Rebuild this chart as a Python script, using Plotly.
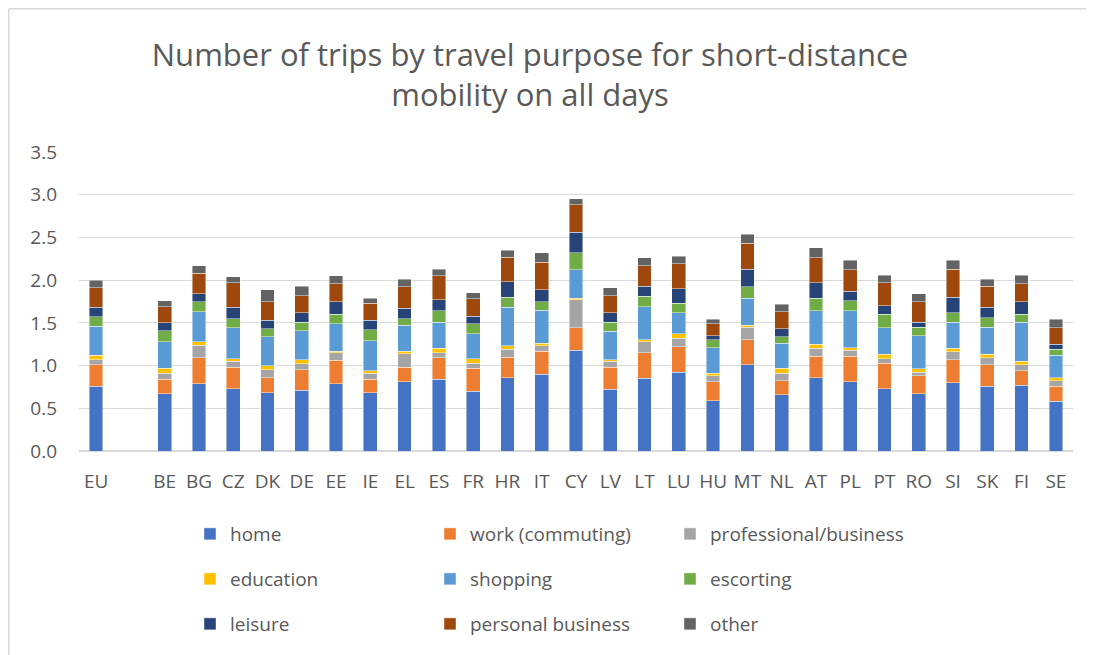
import plotly.graph_objects as go

countries = ["EU", " ", "BE", "BG", "CZ", "DK", "DE", "EE", "IE", "EL", "ES", "FR", "HR", "IT",
             "CY", "LV", "LT", "LU", "HU", "MT", "NL", "AT", "PL", "PT", "RO", "SI", "SK", "FI", "SE"]

# values, one list per purpose (None = empty slot after EU)
home = [0.76, None, 0.67, 0.79, 0.73, 0.68, 0.71, 0.79, 0.68, 0.81, 0.84, 0.70, 0.86, 0.90,
        1.18, 0.72, 0.85, 0.92, 0.59, 1.01, 0.66, 0.86, 0.81, 0.73, 0.67, 0.80, 0.76, 0.77, 0.58]
work = [0.25, None, 0.17, 0.30, 0.25, 0.18, 0.24, 0.27, 0.16, 0.17, 0.25, 0.27, 0.24, 0.27,
        0.26, 0.26, 0.30, 0.30, 0.22, 0.29, 0.16, 0.25, 0.30, 0.30, 0.21, 0.27, 0.25, 0.17, 0.18]
professional = [0.06, None, 0.07, 0.15, 0.07, 0.09, 0.07, 0.09, 0.07, 0.16, 0.06, 0.06, 0.09, 0.06,
                0.33, 0.07, 0.13, 0.10, 0.07, 0.15, 0.09, 0.09, 0.07, 0.05, 0.04, 0.09, 0.08, 0.07, 0.06]
education = [0.05, None, 0.06, 0.04, 0.03, 0.05, 0.05, 0.02, 0.03, 0.03, 0.05, 0.05, 0.04, 0.03,
             0.02, 0.02, 0.02, 0.05, 0.03, 0.02, 0.06, 0.05, 0.03, 0.05, 0.04, 0.04, 0.04, 0.04, 0.04]
shopping = [0.34, None, 0.31, 0.35, 0.36, 0.34, 0.34, 0.32, 0.35, 0.30, 0.31, 0.29, 0.45, 0.39,
            0.33, 0.33, 0.39, 0.25, 0.30, 0.32, 0.29, 0.39, 0.43, 0.31, 0.39, 0.31, 0.32, 0.46, 0.26]
escorting = [0.11, None, 0.13, 0.12, 0.11, 0.09, 0.10, 0.11, 0.13, 0.08, 0.13, 0.12, 0.12, 0.10,
             0.20, 0.11, 0.12, 0.11, 0.09, 0.13, 0.08, 0.15, 0.12, 0.16, 0.10, 0.11, 0.11, 0.09, 0.07]
leisure = [0.11, None, 0.09, 0.09, 0.13, 0.10, 0.11, 0.15, 0.11, 0.12, 0.13, 0.09, 0.18, 0.14,
           0.24, 0.11, 0.12, 0.17, 0.05, 0.21, 0.09, 0.18, 0.11, 0.10, 0.06, 0.18, 0.12, 0.15, 0.06]
personal = [0.23, None, 0.19, 0.24, 0.29, 0.22, 0.20, 0.21, 0.20, 0.25, 0.28, 0.20, 0.29, 0.32,
            0.32, 0.20, 0.24, 0.29, 0.14, 0.30, 0.20, 0.29, 0.25, 0.27, 0.24, 0.33, 0.25, 0.21, 0.19]
other = [0.09, None, 0.07, 0.09, 0.07, 0.14, 0.11, 0.09, 0.06, 0.09, 0.08, 0.07, 0.08, 0.11,
         0.07, 0.09, 0.09, 0.09, 0.05, 0.11, 0.09, 0.12, 0.11, 0.09, 0.09, 0.10, 0.08, 0.10, 0.10]

# (name, values, colour, legend row)
series = [
    ("home", home, "#4472C4", "legend"),
    ("work (commuting)", work, "#ED7D31", "legend"),
    ("professional/business", professional, "#A5A5A5", "legend"),
    ("education", education, "#FFC000", "legend2"),
    ("shopping", shopping, "#5B9BD5", "legend2"),
    ("escorting", escorting, "#70AD47", "legend2"),
    ("leisure", leisure, "#264478", "legend3"),
    ("personal business", personal, "#9E480E", "legend3"),
    ("other", other, "#636363", "legend3"),
]

font_family = "Open Sans, sans-serif"
text_col = "#595959"

fig = go.Figure()
for name, vals, col, leg in series:
    fig.add_trace(go.Bar(
        x=countries, y=vals, name=name, legend=leg,
        marker=dict(color=col, line=dict(color="rgba(255,255,255,0.55)", width=0.8)),
    ))

# plot area in figure pixels: left 71, right 1065, top 144, bottom 443
L, R, T, B = 71, 29, 144, 212
pw, ph = 1094 - L - R, 655 - T - B


def legend_row(center_px):
    return dict(
        orientation="h", x=(182 - L) / pw, xanchor="left",
        y=(655 - B - center_px) / ph, yanchor="middle",
        entrywidth=195, entrywidthmode="pixels",
        font=dict(size=19, color=text_col, family=font_family),
        traceorder="normal", itemclick=False, bgcolor="rgba(0,0,0,0)",
    )


fig.update_layout(
    width=1094, height=655,
    barmode="stack", bargap=0.6,
    paper_bgcolor="white", plot_bgcolor="white",
    margin=dict(l=L, r=R, t=T, b=B),
    font=dict(family=font_family, color=text_col, size=19),
    title=dict(
        text="Number of trips by travel purpose for short-distance<br>mobility on all days",
        x=522 / 1094, xanchor="center", y=1 - 58 / 655, yanchor="middle",
        font=dict(size=31, color=text_col, family=font_family),
    ),
    legend=legend_row(526),
    legend2=legend_row(571),
    legend3=legend_row(616),
    showlegend=True,
)

fig.update_xaxes(
    type="category", showgrid=False, showline=False, zeroline=False,
    ticks="", ticklabelstandoff=17, tickfont=dict(size=19, color=text_col),
)
fig.update_yaxes(
    range=[0, 3.5], dtick=0.5, tickformat=".1f",
    showgrid=True, gridcolor="#D9D9D9", gridwidth=1,
    zeroline=True, zerolinecolor="#D9D9D9", zerolinewidth=1.5,
    showline=False, ticks="", ticklabelstandoff=21,
    tickfont=dict(size=19, color=text_col),
)

# chart frame (left and top edges visible in the reference)
fig.add_shape(type="line", xref="paper", yref="paper",
              x0=(0.75 - L) / pw, x1=(1094 - L) / pw, y0=1 + (T - 0.75) / ph, y1=1 + (T - 0.75) / ph,
              line=dict(color="#D9D9D9", width=1.5))
fig.add_shape(type="line", xref="paper", yref="paper",
              x0=(0.75 - L) / pw, x1=(0.75 - L) / pw, y0=1 + (T - 0.75) / ph, y1=-B / ph,
              line=dict(color="#D9D9D9", width=1.5))

fig.write_html("out.html")
